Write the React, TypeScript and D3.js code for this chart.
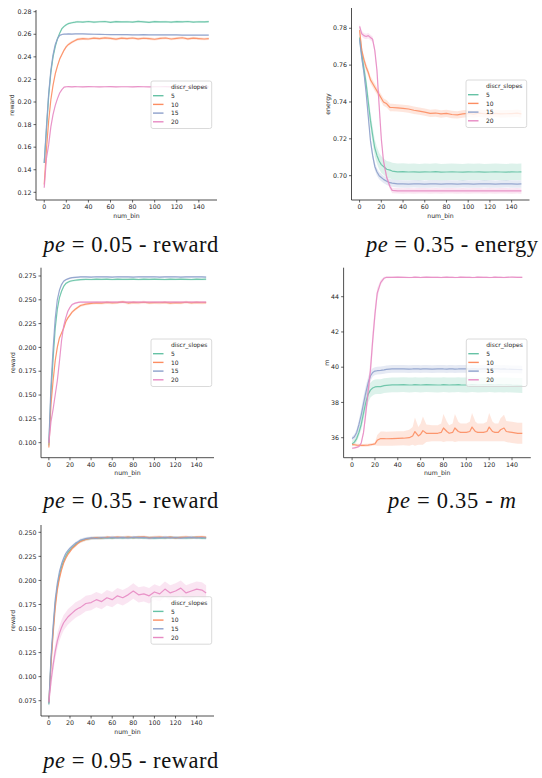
import React from 'react';
import * as d3 from 'd3';

const HUE_LABELS = ['5', '10', '15', '20'];
const COLORS = ['#66c2a5', '#fc8d62', '#8da0cb', '#e78ac3'];
const X_TICKS = [0, 20, 40, 60, 80, 100, 120, 140];

const BINS = [0,2,4,6,8,10,12,14,16,18,20,22,25,28,30,35,40,45,50,55,60,65,70,75,80,85,90,95,100,105,110,115,120,125,130,135,140,145,149];
const P4_BINS = [0,2,4,6,8,10,12,14,16,18,20,22,25,28,30,35,40,45,50,53,55,58,60,62,65,70,75,78,80,83,85,88,90,93,95,100,103,105,108,110,115,118,120,123,125,128,130,133,135,140,145,149];

// pe = 0.05 - reward
const P1_Y_TICKS = [0.12,0.14,0.16,0.18,0.20,0.22,0.24,0.26,0.28];
const P1_S5 = [0.146,0.175,0.205,0.226,0.240,0.249,0.256,0.261,0.265,0.267,0.2685,0.2695,0.2702,0.2707,0.2711,0.2708,0.2713,0.2707,0.2711,0.2713,0.2706,0.2712,0.2709,0.2711,0.2708,0.2714,0.271,0.2706,0.2712,0.2709,0.2711,0.2707,0.2712,0.271,0.2713,0.2708,0.2711,0.2709,0.2712];
const P1_S10 = [0.127,0.158,0.183,0.202,0.215,0.225,0.232,0.238,0.242,0.246,0.249,0.251,0.253,0.2545,0.2555,0.2562,0.2558,0.2566,0.2561,0.2568,0.2563,0.2557,0.2566,0.2562,0.2567,0.2559,0.2565,0.2561,0.2556,0.2563,0.2567,0.2558,0.2564,0.2569,0.256,0.2566,0.2562,0.2558,0.2562];
const P1_S15 = [0.146,0.178,0.207,0.228,0.242,0.251,0.256,0.259,0.2598,0.2601,0.2602,0.2603,0.2602,0.2603,0.2604,0.2603,0.2601,0.26,0.2599,0.2598,0.2597,0.2597,0.2596,0.2596,0.2595,0.2595,0.2596,0.2595,0.2595,0.2594,0.2594,0.2594,0.2594,0.2593,0.2593,0.2593,0.2593,0.2592,0.2592];
const P1_S20 = [0.124,0.150,0.162,0.178,0.189,0.197,0.203,0.208,0.211,0.2132,0.2135,0.2136,0.2134,0.2136,0.2135,0.2134,0.2136,0.2135,0.2134,0.2135,0.2136,0.2134,0.2135,0.2135,0.2134,0.2136,0.2135,0.2134,0.2135,0.2135,0.2136,0.2134,0.2135,0.2135,0.2134,0.2135,0.2136,0.2135,0.2134];
const P1_CI = [0.0009, 0.0012, 0.0006, 0.0005];

// pe = 0.35 - energy
const P2_Y_TICKS = [0.70,0.72,0.74,0.76,0.78];
const P2_S5 = [0.775,0.766,0.758,0.750,0.740,0.730,0.722,0.715,0.711,0.708,0.706,0.705,0.7035,0.703,0.7025,0.7021,0.7022,0.702,0.7021,0.7019,0.7021,0.702,0.7022,0.7019,0.702,0.7021,0.702,0.7019,0.7021,0.702,0.7021,0.7019,0.702,0.7021,0.702,0.7019,0.7021,0.702,0.7021];
const P2_S10 = [0.779,0.768,0.763,0.759,0.756,0.752,0.750,0.748,0.746,0.744,0.742,0.740,0.739,0.737,0.737,0.7368,0.7365,0.7362,0.7355,0.735,0.7345,0.7338,0.734,0.7335,0.7338,0.7332,0.733,0.7335,0.7338,0.7334,0.7339,0.7336,0.7333,0.7338,0.7335,0.7336,0.7337,0.7339,0.7335];
const P2_S15 = [0.774,0.764,0.756,0.745,0.732,0.719,0.711,0.705,0.702,0.700,0.699,0.698,0.697,0.6962,0.696,0.6956,0.6955,0.6954,0.6956,0.6955,0.6954,0.6955,0.6956,0.6954,0.6955,0.6955,0.6954,0.6956,0.6955,0.6954,0.6955,0.6956,0.6955,0.6954,0.6955,0.6956,0.6955,0.6954,0.6955];
const P2_S20 = [0.781,0.777,0.776,0.7755,0.776,0.775,0.774,0.768,0.757,0.738,0.720,0.708,0.699,0.694,0.692,0.6918,0.6917,0.6918,0.6917,0.6918,0.6918,0.6917,0.6918,0.6917,0.6918,0.6918,0.6917,0.6918,0.6917,0.6918,0.6918,0.6917,0.6918,0.6917,0.6918,0.6918,0.6917,0.6918,0.6917];
const P2_CI = [0.0045, 0.002, 0.002, 0.0015];

// pe = 0.35 - reward
const P3_Y_TICKS = [0.100,0.125,0.150,0.175,0.200,0.225,0.250,0.275];
const P3_S5 = [0.097,0.152,0.188,0.220,0.240,0.252,0.259,0.264,0.267,0.2685,0.2695,0.270,0.2705,0.271,0.2712,0.2714,0.2713,0.2716,0.2714,0.2717,0.2713,0.2716,0.2714,0.2715,0.2717,0.2713,0.2716,0.2714,0.2717,0.2715,0.2713,0.2716,0.2714,0.2717,0.2715,0.2713,0.2716,0.2714,0.2716];
const P3_S10 = [0.095,0.140,0.165,0.186,0.200,0.210,0.215,0.220,0.227,0.231,0.234,0.237,0.240,0.2425,0.244,0.2455,0.2462,0.2468,0.2465,0.2472,0.2468,0.247,0.2478,0.2466,0.2472,0.2469,0.2474,0.2467,0.2471,0.2469,0.2473,0.2466,0.2471,0.2468,0.2474,0.2467,0.2472,0.2469,0.2471];
const P3_S15 = [0.100,0.160,0.198,0.230,0.250,0.260,0.266,0.2695,0.271,0.272,0.2727,0.2732,0.2735,0.2738,0.274,0.2741,0.2739,0.2742,0.274,0.2741,0.2739,0.2742,0.274,0.2741,0.2739,0.2742,0.2741,0.274,0.2742,0.2739,0.2741,0.274,0.2742,0.2739,0.2741,0.274,0.2742,0.2741,0.2739];
const P3_S20 = [0.100,0.122,0.135,0.150,0.165,0.185,0.207,0.222,0.231,0.238,0.242,0.245,0.2465,0.2472,0.2475,0.2476,0.2475,0.2477,0.2476,0.2475,0.2476,0.2477,0.2475,0.2476,0.2476,0.2475,0.2477,0.2476,0.2475,0.2476,0.2477,0.2476,0.2475,0.2476,0.2477,0.2475,0.2476,0.2476,0.2475];
const P3_CI = [0.001, 0.0015, 0.0009, 0.0009];

// pe = 0.35 - m
const P4_Y_TICKS = [36,38,40,42,44];
const P4_S5 = [35.65,35.75,35.95,36.3,36.75,37.4,38.0,38.45,38.7,38.82,38.88,38.9,38.9,38.95,38.97,39.0,39.0,39.01,38.99,39.0,39.01,39.0,38.99,39.0,39.01,39.0,38.99,39.0,39.01,39.0,38.99,39.0,39.0,39.01,39.0,38.99,39.0,39.01,39.0,38.99,39.0,39.0,39.01,39.0,38.99,39.0,39.0,38.99,39.0,38.98,38.97,38.96];
const P4_S10 = [35.62,35.6,35.58,35.57,35.56,35.56,35.57,35.58,35.6,35.62,35.65,35.85,35.95,35.95,35.94,35.95,35.96,35.97,36.0,36.1,36.35,36.1,36.2,36.4,36.25,36.25,36.25,36.3,36.55,36.35,36.25,36.3,36.55,36.35,36.3,36.3,36.35,36.6,36.35,36.3,36.3,36.35,36.6,36.35,36.3,36.3,36.45,36.55,36.35,36.3,36.25,36.25];
const P4_S15 = [35.95,36.05,36.3,36.75,37.3,37.95,38.55,39.1,39.5,39.7,39.78,39.8,39.82,39.85,39.88,39.9,39.91,39.9,39.89,39.9,39.91,39.9,39.89,39.9,39.9,39.89,39.9,39.91,39.9,39.89,39.9,39.9,39.89,39.9,39.91,39.9,39.89,39.9,39.9,39.89,39.9,39.91,39.9,39.89,39.9,39.9,39.89,39.9,39.89,39.88,39.87,39.86];
const P4_S20 = [35.40,35.42,35.45,35.5,35.7,36.3,37.4,38.6,39.8,41.5,43.0,44.2,44.8,45.05,45.1,45.1,45.11,45.1,45.09,45.1,45.11,45.1,45.09,45.1,45.11,45.1,45.1,45.09,45.1,45.11,45.1,45.1,45.09,45.1,45.11,45.1,45.1,45.09,45.1,45.11,45.1,45.1,45.09,45.1,45.11,45.1,45.1,45.09,45.1,45.11,45.1,45.1];
const P4_S5_CI = [0.15,0.15,0.18,0.22,0.3,0.4,0.45,0.45,0.42,0.42,0.42,0.42,0.42,0.42,0.42,0.42,0.42,0.42,0.42,0.42,0.42,0.42,0.42,0.42,0.42,0.42,0.42,0.42,0.42,0.42,0.42,0.42,0.42,0.42,0.42,0.42,0.42,0.42,0.42,0.42,0.42,0.42,0.42,0.42,0.42,0.42,0.42,0.42,0.42,0.42,0.42,0.42];
const P4_S10_CI = [0.08,0.08,0.08,0.08,0.08,0.08,0.08,0.08,0.08,0.08,0.08,0.3,0.4,0.4,0.4,0.4,0.4,0.4,0.45,0.5,0.8,0.5,0.6,0.8,0.5,0.45,0.45,0.5,0.8,0.55,0.45,0.5,0.8,0.55,0.5,0.5,0.55,0.8,0.55,0.5,0.5,0.55,0.8,0.55,0.5,0.5,0.65,0.75,0.6,0.6,0.6,0.6];
const P4_S15_CI = [0.12,0.15,0.2,0.28,0.35,0.4,0.4,0.35,0.28,0.24,0.22,0.22,0.22,0.22,0.22,0.22,0.22,0.22,0.22,0.22,0.22,0.22,0.22,0.22,0.22,0.22,0.22,0.22,0.22,0.22,0.22,0.22,0.22,0.22,0.22,0.22,0.22,0.22,0.22,0.22,0.22,0.22,0.22,0.22,0.22,0.22,0.22,0.22,0.22,0.22,0.22,0.22];
const P4_S20_CI = [0.05,0.05,0.05,0.05,0.06,0.15,0.35,0.5,0.6,0.6,0.5,0.3,0.15,0.08,0.05,0.04,0.04,0.04,0.04,0.04,0.04,0.04,0.04,0.04,0.04,0.04,0.04,0.04,0.04,0.04,0.04,0.04,0.04,0.04,0.04,0.04,0.04,0.04,0.04,0.04,0.04,0.04,0.04,0.04,0.04,0.04,0.04,0.04,0.04,0.04,0.04,0.04];

// pe = 0.95 - reward
const P5_Y_TICKS = [0.075,0.100,0.125,0.150,0.175,0.200,0.225,0.250];
const P5_S5 = [0.071,0.116,0.148,0.176,0.193,0.205,0.214,0.220,0.225,0.229,0.2315,0.234,0.237,0.2395,0.241,0.2428,0.2436,0.2442,0.2438,0.2445,0.244,0.2446,0.2441,0.2447,0.2443,0.2448,0.2442,0.2446,0.2439,0.2445,0.2441,0.2447,0.2443,0.2446,0.2441,0.2444,0.2447,0.244,0.2443];
const P5_S10 = [0.073,0.112,0.144,0.171,0.190,0.202,0.211,0.218,0.223,0.227,0.230,0.233,0.236,0.239,0.2405,0.2425,0.2438,0.2444,0.2441,0.2449,0.2444,0.245,0.2446,0.2451,0.2445,0.2449,0.2452,0.2444,0.2448,0.2451,0.2445,0.2449,0.2443,0.2447,0.2451,0.2445,0.2449,0.2452,0.2447];
const P5_S15 = [0.072,0.120,0.152,0.180,0.197,0.209,0.217,0.223,0.228,0.231,0.2335,0.2355,0.2385,0.2405,0.242,0.2435,0.2442,0.2438,0.2446,0.2441,0.2448,0.2443,0.2447,0.2441,0.2449,0.2444,0.2447,0.2439,0.2445,0.2442,0.2448,0.2443,0.2446,0.244,0.2445,0.2448,0.2442,0.2446,0.2441];
const P5_S20 = [0.074,0.095,0.112,0.126,0.137,0.145,0.151,0.156,0.159,0.162,0.164,0.166,0.169,0.171,0.172,0.176,0.177,0.180,0.178,0.182,0.180,0.184,0.182,0.185,0.189,0.185,0.186,0.184,0.188,0.186,0.191,0.187,0.189,0.192,0.187,0.189,0.191,0.190,0.187];
const P5_CI = [0.0015, 0.0015, 0.0015, 0.008];

type PanelCfg = {
  box: [number, number, number, number];
  yDomain: [number, number];
  yTicks: number[];
  fmt: string;
  yLabel: string;
  yLabelX: number;
  bins: number[];
  series: number[][];
  ci: (number | number[])[];
  legend: [number, number];
  title: { pe: string; rest: string; italicTail?: string; cx: number; base: number; width: number };
};

const PANELS: PanelCfg[] = [
  { box: [36, 10, 217, 200], yDomain: [0.1132, 0.2815], yTicks: P1_Y_TICKS, fmt: '.2f', yLabel: 'reward', yLabelX: 14,
    bins: BINS, series: [P1_S5, P1_S10, P1_S15, P1_S20], ci: P1_CI, legend: [151, 81],
    title: { pe: '0.05', rest: ' - reward', cx: 130.8, base: 252, width: 175 } },
  { box: [351.5, 8, 529.5, 200], yDomain: [0.6868, 0.791], yTicks: P2_Y_TICKS, fmt: '.2f', yLabel: 'energy', yLabelX: 330,
    bins: BINS, series: [P2_S5, P2_S10, P2_S15, P2_S20], ci: P2_CI, legend: [466, 80],
    title: { pe: '0.35', rest: ' - energy', cx: 452, base: 252, width: 172 } },
  { box: [41, 267.7, 214, 457.7], yDomain: [0.0842, 0.2837], yTicks: P3_Y_TICKS, fmt: '.3f', yLabel: 'reward', yLabelX: 15,
    bins: BINS, series: [P3_S5, P3_S10, P3_S15, P3_S20], ci: P3_CI, legend: [151, 339],
    title: { pe: '0.35', rest: ' - reward', cx: 130.8, base: 508, width: 175 } },
  { box: [343.6, 267.7, 530.8, 457.7], yDomain: [34.865, 45.645], yTicks: P4_Y_TICKS, fmt: 'd', yLabel: 'm', yLabelX: 328.5,
    bins: P4_BINS, series: [P4_S5, P4_S10, P4_S15, P4_S20], ci: [P4_S5_CI, P4_S10_CI, P4_S15_CI, P4_S20_CI], legend: [466.3, 339],
    title: { pe: '0.35', rest: ' - ', italicTail: 'm', cx: 452, base: 508, width: 128 } },
  { box: [41, 525, 214, 716], yDomain: [0.0591, 0.2576], yTicks: P5_Y_TICKS, fmt: '.3f', yLabel: 'reward', yLabelX: 15,
    bins: BINS, series: [P5_S5, P5_S10, P5_S15, P5_S20], ci: P5_CI, legend: [151, 596.7],
    title: { pe: '0.95', rest: ' - reward', cx: 130.8, base: 768, width: 175 } },
];

const TICK_FONT = 'DejaVu Sans, sans-serif';
const SERIF = "'Liberation Serif', 'Times New Roman', Times, serif";

function Panel({ cfg }: { cfg: PanelCfg }) {
  const [l, t, r, b] = cfg.box;
  const x = d3.scaleLinear().domain([-7.45, 156.45]).range([l, r]);
  const y = d3.scaleLinear().domain(cfg.yDomain).range([b, t]);
  const fmt = d3.format(cfg.fmt);

  const data = cfg.series.map((vals, si) => {
    const c = cfg.ci[si];
    const n = Math.min(vals.length, cfg.bins.length);
    const pts: { b: number; v: number; c: number }[] = [];
    for (let i = 0; i < n; i++) {
      pts.push({ b: cfg.bins[i], v: vals[i], c: Array.isArray(c) ? c[Math.min(i, c.length - 1)] : c });
    }
    return pts;
  });

  const area = d3.area<{ b: number; v: number; c: number }>()
    .x(d => x(d.b)).y0(d => y(d.v - d.c)).y1(d => y(d.v + d.c));
  const line = d3.line<{ b: number; v: number; c: number }>().x(d => x(d.b)).y(d => y(d.v));

  const [lx, ly] = cfg.legend;
  const rowY = [6, 14.7, 23.4, 32.1, 40.8];

  return (
    <g>
      {data.map((pts, i) => (
        <path key={'a' + i} d={area(pts) || ''} fill={COLORS[i]} fillOpacity={0.22} stroke="none" />
      ))}
      {data.map((pts, i) => (
        <path key={'l' + i} d={line(pts) || ''} fill="none" stroke={COLORS[i]} strokeWidth={1.2} strokeOpacity={0.9} strokeLinejoin="round" />
      ))}
      <line x1={l} x2={l} y1={t} y2={b} stroke="#222" strokeWidth={0.8} />
      <line x1={l} x2={r} y1={b} y2={b} stroke="#222" strokeWidth={0.8} />
      {cfg.yTicks.map(v => (
        <g key={'yt' + v}>
          <line x1={l - 2.5} x2={l} y1={y(v)} y2={y(v)} stroke="#222" strokeWidth={0.7} />
          <text x={l - 4.5} y={y(v) + 2.2} textAnchor="end" fontSize={6.3} fontFamily={TICK_FONT} fill="#262626">{fmt(v)}</text>
        </g>
      ))}
      {X_TICKS.map(v => (
        <g key={'xt' + v}>
          <line x1={x(v)} x2={x(v)} y1={b} y2={b + 2.5} stroke="#222" strokeWidth={0.7} />
          <text x={x(v)} y={b + 9.4} textAnchor="middle" fontSize={6.3} fontFamily={TICK_FONT} fill="#262626">{v}</text>
        </g>
      ))}
      <text x={(l + r) / 2} y={b + 17.5} textAnchor="middle" fontSize={6.2} fontFamily={TICK_FONT} fill="#262626">num_bin</text>
      <text transform={`translate(${cfg.yLabelX},${(t + b) / 2}) rotate(-90)`} textAnchor="middle" fontSize={6.2} fontFamily={TICK_FONT} fill="#262626">{cfg.yLabel}</text>
      <rect x={lx} y={ly} width={60.7} height={47.5} rx={2} fill="#fff" fillOpacity={0.8} stroke="#d0d0d0" strokeWidth={0.8} />
      <text x={lx + 20} y={ly + rowY[0] + 2.1} fontSize={6} fontFamily={TICK_FONT} fill="#262626">discr_slopes</text>
      {HUE_LABELS.map((lab, i) => (
        <g key={'lg' + lab}>
          <line x1={lx + 2} x2={lx + 12.5} y1={ly + rowY[i + 1]} y2={ly + rowY[i + 1]} stroke={COLORS[i]} strokeWidth={1.4} />
          <text x={lx + 20} y={ly + rowY[i + 1] + 2.1} fontSize={6} fontFamily={TICK_FONT} fill="#262626">{lab}</text>
        </g>
      ))}
      <text x={cfg.title.cx} y={cfg.title.base} textAnchor="middle" fontSize={22.5} fontFamily={SERIF} fill="#111"
        textLength={cfg.title.width} lengthAdjust="spacing" style={{ whiteSpace: 'pre' }}>
        <tspan fontStyle="italic">pe</tspan>
        <tspan>{' = ' + cfg.title.pe + cfg.title.rest}</tspan>
        {cfg.title.italicTail ? <tspan fontStyle="italic">{cfg.title.italicTail}</tspan> : null}
      </text>
    </g>
  );
}

export default function App() {
  return (
    <svg width={542} height={778} viewBox="0 0 542 778" style={{ position: 'absolute', left: 0, top: 0, background: '#fff' }}>
      <rect x={0} y={0} width={542} height={778} fill="#fff" />
      {PANELS.map((p, i) => <Panel key={i} cfg={p} />)}
    </svg>
  );
}
